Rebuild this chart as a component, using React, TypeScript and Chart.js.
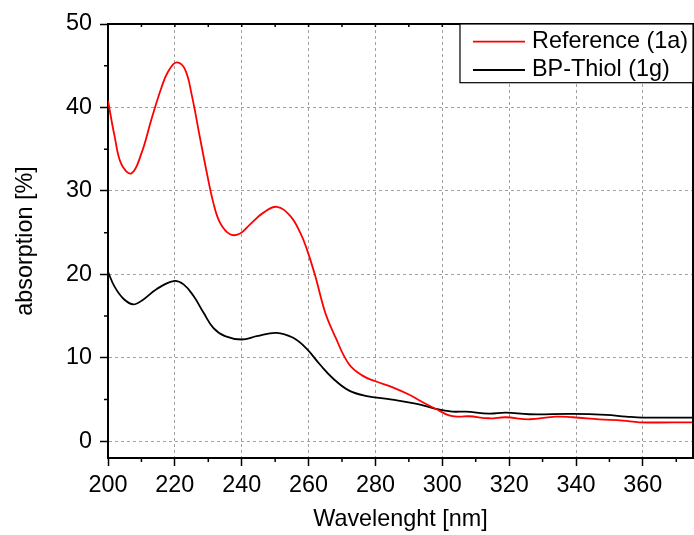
import React, { useEffect, useRef } from "react";
import { Chart, registerables } from "chart.js";

Chart.register(...registerables);

const seriesLabels = ["Reference (1a)", "BP-Thiol (1g)"];
const seriesColors = ["#ff0000", "#000000"];

const refWavelengths = [200, 202, 204, 207, 210, 213, 216, 218, 220.5, 223, 225, 227.5, 229.5, 231.5, 233.5, 236.5, 239.5, 242.5, 246.5, 250.5, 254.5, 257.5, 259.5, 262, 265, 268, 272, 276, 280, 285, 290, 295, 298, 302, 305, 308, 314, 319, 326, 334, 339, 347, 354, 359, 375];
const refValues = [40.8, 36.5, 33.2, 32.1, 34.5, 38.6, 42.4, 44.3, 45.4, 44.6, 41.6, 36.4, 32.3, 28.6, 26.2, 24.8, 24.9, 26.0, 27.4, 28.1, 27.0, 25.0, 23.0, 19.8, 15.4, 12.5, 9.3, 7.9, 7.2, 6.5, 5.6, 4.5, 3.9, 3.1, 2.95, 3.0, 2.76, 2.88, 2.64, 2.96, 2.88, 2.64, 2.48, 2.28, 2.28];

const thiolWavelengths = [200, 202, 204.7, 207.6, 210.6, 214.6, 219.6, 222.6, 225.6, 228.6, 231.5, 235, 240, 244.5, 250.4, 255.4, 259.4, 263.4, 267.4, 272, 277, 285, 292, 298, 303, 307, 314, 319, 326, 339, 349, 355, 360, 375];
const thiolValues = [20.3, 18.5, 17.05, 16.4, 17.0, 18.25, 19.2, 18.8, 17.4, 15.4, 13.6, 12.6, 12.2, 12.6, 13.0, 12.4, 11.1, 9.2, 7.5, 6.1, 5.45, 5.0, 4.52, 3.9, 3.56, 3.56, 3.32, 3.44, 3.24, 3.28, 3.16, 2.96, 2.84, 2.84];

const xMin = 200;
const xMax = 375;
const xStep = 20;
const yMin = -2;
const yMax = 50;
const yStep = 10;

const xTitle = "Wavelenght [nm]";
const yTitle = "absorption [%]";

const FONT = '"Liberation Sans", Arial, sans-serif';
const FSIZE = 23.4;

const framePlugin = {
  id: "frameAndLegend",
  afterDraw(chart: any) {
    const { ctx, chartArea } = chart;
    const xs = chart.scales.x;
    const ys = chart.scales.y;
    ctx.save();
    ctx.strokeStyle = "#000";
    ctx.lineWidth = 2;
    ctx.beginPath();
    ctx.moveTo(chartArea.left, chartArea.top);
    ctx.lineTo(chartArea.right, chartArea.top);
    ctx.lineTo(chartArea.right, chartArea.bottom);
    ctx.stroke();
    ctx.lineWidth = 1.5;
    ctx.beginPath();
    for (let v = xMin + xStep / 2; v <= xMax; v += xStep) {
      const px = xs.getPixelForValue(v);
      ctx.moveTo(px, chartArea.bottom);
      ctx.lineTo(px, chartArea.bottom + 4);
    }
    for (let v = xMin + xStep / 2; v <= xMax; v += xStep / 2) {
      const px = xs.getPixelForValue(v);
      ctx.moveTo(px, chartArea.top);
      ctx.lineTo(px, chartArea.top + 3);
    }
    for (let v = yStep / 2; v < yMax; v += yStep) {
      const py = ys.getPixelForValue(v);
      ctx.moveTo(chartArea.left, py);
      ctx.lineTo(chartArea.left - 4, py);
    }
    ctx.stroke();
    ctx.font = FSIZE + "px " + FONT;
    const datasets = chart.data.datasets;
    let maxW = 0;
    datasets.forEach((d: any) => {
      maxW = Math.max(maxW, ctx.measureText(d.label).width);
    });
    const padL = 13;
    const lineLen = 52;
    const gap = 7;
    const padR = 5;
    const boxW = padL + lineLen + gap + maxW + padR;
    const right = chartArea.right;
    const left = right - boxW;
    const top = chartArea.top;
    const rowH = 28.3;
    const firstRow = 17.7;
    const boxH = 58.7;
    ctx.fillStyle = "#fff";
    ctx.fillRect(left, top, boxW, boxH);
    ctx.lineWidth = 1.2;
    ctx.strokeStyle = "#000";
    ctx.strokeRect(left, top, boxW, boxH);
    datasets.forEach((d: any, i: number) => {
      const cy = top + firstRow + rowH * i;
      ctx.strokeStyle = d.borderColor;
      ctx.lineWidth = 1.8;
      ctx.beginPath();
      ctx.moveTo(left + padL, cy);
      ctx.lineTo(left + padL + lineLen, cy);
      ctx.stroke();
      ctx.fillStyle = "#000";
      ctx.textBaseline = "middle";
      ctx.textAlign = "left";
      ctx.fillText(d.label, left + padL + lineLen + gap, cy);
    });
    ctx.restore();
  },
};

export default function App() {
  const ref = useRef<HTMLCanvasElement | null>(null);

  useEffect(() => {
    document.body.style.margin = "0";
    const canvas = ref.current;
    if (!canvas) return;
    const mk = (xsArr: number[], ysArr: number[]) => xsArr.map((x, i) => ({ x, y: ysArr[i] }));
    const gridColor = "#a0a0a0";
    const chart = new Chart(canvas, {
      type: "line",
      data: {
        datasets: [
          {
            label: seriesLabels[0],
            data: mk(refWavelengths, refValues),
            borderColor: seriesColors[0],
            borderWidth: 1.8,
            pointRadius: 0,
            tension: 0.4,
            fill: false,
          },
          {
            label: seriesLabels[1],
            data: mk(thiolWavelengths, thiolValues),
            borderColor: seriesColors[1],
            borderWidth: 1.8,
            pointRadius: 0,
            tension: 0.4,
            fill: false,
          },
        ],
      },
      options: {
        animation: false,
        responsive: false,
        maintainAspectRatio: false,
        layout: { padding: { top: 24, right: 1, left: 0, bottom: 0 } },
        plugins: {
          legend: { display: false },
          tooltip: { enabled: false },
        },
        scales: {
          x: {
            type: "linear",
            min: xMin,
            max: xMax,
            afterFit: (s: any) => {
              s.height = 77;
            },
            ticks: {
              stepSize: xStep,
              includeBounds: false,
              color: "#000",
              font: { family: FONT, size: FSIZE },
              padding: 6,
              maxRotation: 0,
              autoSkip: false,
            },
            grid: {
              color: gridColor,
              lineWidth: 1,
              tickColor: "#000",
              tickWidth: 1.5,
              tickLength: 8,
              tickBorderDash: [],
            },
            border: { color: "#000", width: 2, dash: [3, 3] },
            title: {
              display: true,
              text: xTitle,
              color: "#000",
              font: { family: FONT, size: FSIZE },
              padding: { top: 0, bottom: 1 },
            },
          },
          y: {
            type: "linear",
            min: yMin,
            max: yMax,
            afterFit: (s: any) => {
              s.width = 108;
            },
            ticks: {
              stepSize: yStep,
              includeBounds: false,
              color: "#000",
              font: { family: FONT, size: FSIZE },
              padding: 8,
            },
            grid: {
              color: gridColor,
              lineWidth: 1,
              tickColor: "#000",
              tickWidth: 1.5,
              tickLength: 8,
              tickBorderDash: [],
            },
            border: { color: "#000", width: 2, dash: [3, 3] },
            title: {
              display: true,
              text: yTitle,
              color: "#000",
              font: { family: FONT, size: FSIZE },
              padding: { top: 12, bottom: 0 },
            },
          },
        },
      },
      plugins: [framePlugin],
    });
    return () => chart.destroy();
  }, []);

  return (
    <div style={{ position: "absolute", left: 0, top: 0, width: 694, height: 535 }}>
      <canvas ref={ref} width={694} height={535} style={{ width: 694, height: 535 }} />
    </div>
  );
}
